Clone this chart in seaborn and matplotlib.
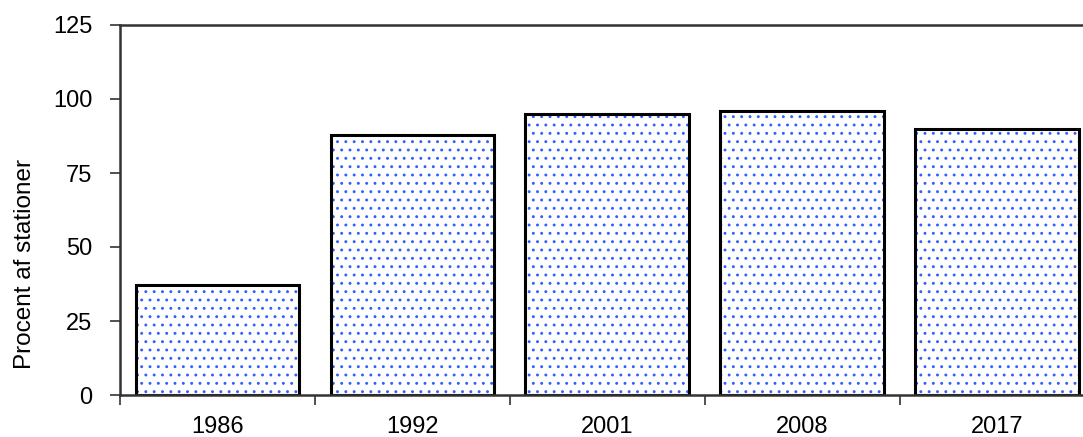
import matplotlib
matplotlib.use("Agg")
import matplotlib.pyplot as plt
import seaborn as sns
import pandas as pd
import numpy as np
from matplotlib.ticker import FixedLocator, NullFormatter

years = ["1986", "1992", "2001", "2008", "2017"]
values = [37, 88, 95, 96, 90]
y_ticks = [0, 25, 50, 75, 100, 125]
y_label = "Procent af stationer"

df = pd.DataFrame({"year": years, "value": values})

sns.set_theme(style="white")
plt.rcParams["font.family"] = ["Liberation Sans", "DejaVu Sans"]
plt.rcParams["hatch.linewidth"] = 0.9
plt.rcParams["text.color"] = "black"
plt.rcParams["axes.labelcolor"] = "black"
plt.rcParams["xtick.color"] = "black"
plt.rcParams["ytick.color"] = "black"

fs = 17

fig = plt.figure(figsize=(10.83, 4.37), dpi=100)
ax = fig.add_axes([120 / 1083, 42 / 437, 974.7 / 1083, 370 / 437])

# dotted fill
sns.barplot(data=df, x="year", y="value", ax=ax, color="white", width=0.84,
            edgecolor="#2f5fff", linewidth=0, hatch="..", saturation=1)
# outlines
sns.barplot(data=df, x="year", y="value", ax=ax, fill=False, width=0.84,
            edgecolor="black", linewidth=2.2, saturation=1)

ax.set_xlim(-0.5, 4.5)
ax.set_ylim(0, 125)
ax.set_yticks(y_ticks)
ax.set_yticklabels([str(t) for t in y_ticks])
ax.set_ylabel(y_label, fontsize=17.5, color="black")
ax.yaxis.set_label_coords(-0.086, 0.354)
ax.set_xlabel("")

# labels at centers (no tick mark), tick marks at category boundaries
ax.set_xticks(range(len(years)))
ax.set_xticklabels(years)
ax.tick_params(axis="x", which="major", length=0, pad=15, labelsize=fs, labelcolor="black")
ax.xaxis.set_minor_locator(FixedLocator(np.arange(-0.5, len(years), 1.0)))
ax.xaxis.set_minor_formatter(NullFormatter())
ax.tick_params(axis="x", which="minor", bottom=True, length=7, width=1.2, color="#333333", direction="out")
ax.tick_params(axis="y", left=True, length=7, width=1.2, color="#333333", direction="out",
               pad=13, labelsize=fs, labelcolor="black")

for side in ["left", "top", "bottom"]:
    ax.spines[side].set_visible(True)
    ax.spines[side].set_color("#333333")
    ax.spines[side].set_linewidth(1.8)
ax.spines["right"].set_visible(False)

fig.savefig("out.png", dpi=100)
